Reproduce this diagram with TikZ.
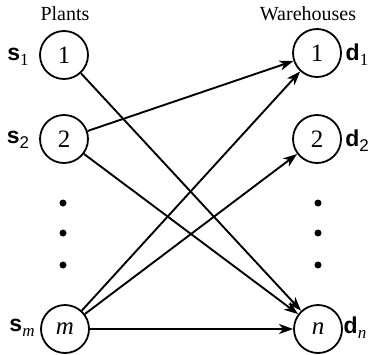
\documentclass[tikz,border=0pt]{standalone}
\usepackage{fontspec}
\setmainfont{Liberation Serif}
\setsansfont{Liberation Sans}
\usetikzlibrary{arrows.meta}
\newcommand{\lsub}[1]{\raisebox{-5pt}{\fontsize{17}{19}\selectfont #1}}
\begin{document}
\begin{tikzpicture}[x=1pt,y=-1pt,
  nd/.style={circle,draw,line width=1.8pt,minimum size=48pt,inner sep=0pt,font=\fontsize{25}{28}\selectfont},
  hd/.style={font=\fontsize{20}{22}\selectfont},
  lb/.style={font=\fontsize{23}{26}\selectfont\sffamily\bfseries},
  dt/.style={circle,fill,inner sep=0pt,minimum size=7pt},
  ar/.style={line width=1.9pt,-{Stealth[length=14pt,width=10pt,inset=4pt]}}]
\useasboundingbox (0,0) rectangle (371,354);
\node[hd] (plants) at (65,14) {Plants};
\node[hd] (wh) at (308,14) {Warehouses};
\node[nd] (L1) at (64,55) {1};
\node[nd] (L2) at (64,139) {2};
\node[nd] (Lm) at (65,329) {\textit{m}};
\node[nd] (R1) at (317,53) {1};
\node[nd] (R2) at (317,139) {2};
\node[nd] (Rn) at (318,329) {\textit{n}};
\node[lb] (s1) at (18,57) {s\lsub{\rmfamily\mdseries 1}};
\node[lb] (s2) at (18,140) {s\lsub{\mdseries 2}};
\node[lb] (sm) at (22,328) {s\lsub{\rmfamily\mdseries\itshape m}};
\node[lb] (d1) at (357,55) {d\lsub{\rmfamily\mdseries 1}};
\node[lb] (d2) at (357,141) {d\lsub{\mdseries 2}};
\node[lb] (dn) at (355,328) {d\lsub{\rmfamily\mdseries\itshape n}};
\node[dt] (la) at (63,203) {};
\node[dt] (lb2) at (63,233) {};
\node[dt] (lc) at (63,265) {};
\node[dt] (ra) at (318,203) {};
\node[dt] (rb) at (318,233) {};
\node[dt] (rc) at (318,265) {};
\draw[ar] (L1) -- (Rn);
\draw[ar] (L2) -- (R1);
\draw[ar] (L2) -- (Rn);
\draw[ar] (Lm) -- (R1);
\draw[ar] (Lm) -- (R2);
\draw[ar] (Lm) -- (Rn);
\end{tikzpicture}
\end{document}
